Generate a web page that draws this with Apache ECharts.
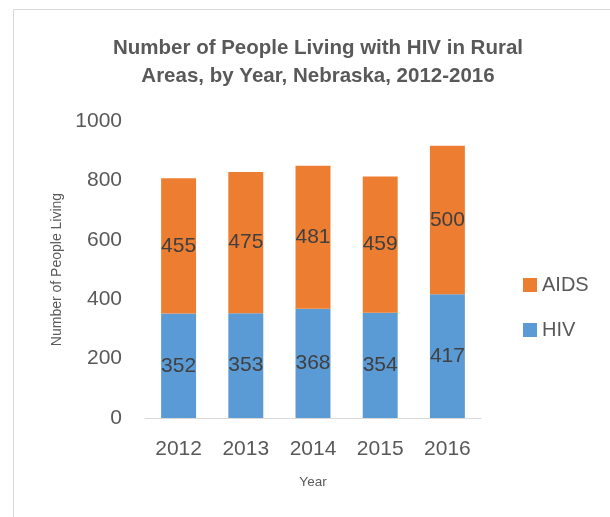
<!DOCTYPE html>
<html>
<head>
<meta charset="utf-8">
<script src="https://cdn.jsdelivr.net/npm/echarts@6/dist/echarts.min.js"></script>
<style>
html,body{margin:0;padding:0;background:#fff;}
#chart{width:610px;height:517px;}
</style>
</head>
<body>
<div id="chart"></div>
<script>
const years = ['2012', '2013', '2014', '2015', '2016'];
const hivValues = [352, 353, 368, 354, 417];
const aidsValues = [455, 475, 481, 459, 500];
const yTicks = { min: 0, max: 1000, interval: 200 };

const chart = echarts.init(document.getElementById('chart'));
const labelStyle = {
  show: true,
  position: 'inside',
  color: '#404040',
  fontSize: 21,
  fontFamily: 'Liberation Sans'
};
chart.setOption({
  animation: false,
  backgroundColor: '#fff',
  graphic: [{
    type: 'rect',
    shape: { x: 13.5, y: 9.5, width: 700, height: 600 },
    style: { fill: 'none', stroke: '#D9D9D9', lineWidth: 1 },
    silent: true
  }],
  title: {
    text: 'Number of People Living with HIV in Rural\nAreas, by Year, Nebraska, 2012-2016',
    left: 313,
    textAlign: 'center',
    top: 29,
    textStyle: {
      fontFamily: 'Liberation Sans',
      fontWeight: 'bold',
      fontSize: 20.5,
      lineHeight: 28,
      color: '#595959'
    }
  },
  legend: {
    orient: 'vertical',
    left: 518,
    top: 270,
    itemWidth: 14,
    itemHeight: 14,
    itemGap: 25,
    icon: 'rect',
    data: ['AIDS', 'HIV'],
    textStyle: { fontFamily: 'Liberation Sans', fontSize: 20, color: '#595959' }
  },
  grid: { left: 145, right: 129, top: 121, bottom: 99 },
  xAxis: {
    type: 'category',
    data: years,
    name: 'Year',
    nameLocation: 'middle',
    nameGap: 57,
    nameTextStyle: { fontFamily: 'Liberation Sans', fontSize: 13.5, color: '#595959' },
    axisLine: { lineStyle: { color: '#D9D9D9', width: 1 } },
    axisTick: { show: false },
    axisLabel: { margin: 21, fontFamily: 'Liberation Sans', fontSize: 21, color: '#595959' }
  },
  yAxis: {
    type: 'value',
    min: yTicks.min,
    max: yTicks.max,
    interval: yTicks.interval,
    name: 'Number of People Living',
    nameLocation: 'middle',
    nameGap: 80,
    nameTextStyle: { fontFamily: 'Liberation Sans', fontSize: 14, color: '#595959' },
    axisLine: { show: false },
    axisTick: { show: false },
    splitLine: { show: false },
    axisLabel: {
      margin: 23,
      fontFamily: 'Liberation Sans',
      fontSize: 21,
      color: '#595959',
      formatter: function (v) { return String(v); }
    }
  },
  series: [
    {
      name: 'HIV',
      type: 'bar',
      stack: 'total',
      barWidth: '52%',
      data: hivValues,
      itemStyle: { color: '#5B9BD5' },
      label: labelStyle
    },
    {
      name: 'AIDS',
      type: 'bar',
      stack: 'total',
      barWidth: '52%',
      data: aidsValues,
      itemStyle: { color: '#ED7D31' },
      label: labelStyle
    }
  ]
});
</script>
</body>
</html>
